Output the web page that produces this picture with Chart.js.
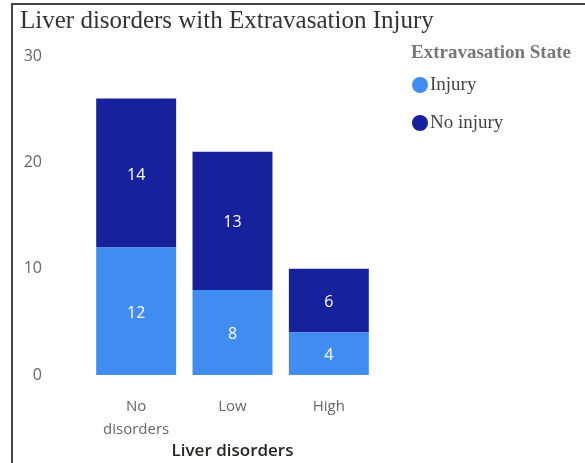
<!DOCTYPE html>
<html>
<head>
<meta charset="utf-8">
<script src="https://cdn.jsdelivr.net/npm/chart.js@4"></script>
<style>
  html, body { margin:0; padding:0; background:#fff; }
  #wrap { width:585px; height:463px; position:relative; }
</style>
</head>
<body>
<div id="wrap"><canvas id="chart" width="585" height="463"></canvas></div>
<script>
const categories = [['No', 'disorders'], 'Low', 'High'];
const injury = [12, 8, 4];
const noInjury = [14, 13, 6];
const yTicks = [0, 10, 20, 30];
const chartTitle = 'Liver disorders with Extravasation Injury';
const legendTitle = 'Extravasation State';

// frame, title, legend and the numbers inside each bar
const decor = {
  id: 'decor',
  beforeDraw(chart) {
    const ctx = chart.ctx;
    ctx.save();
    ctx.strokeStyle = '#444';
    ctx.lineWidth = 2;
    ctx.beginPath();
    ctx.moveTo(12, 463);
    ctx.lineTo(12, 4);
    ctx.lineTo(585, 4);
    ctx.stroke();
    ctx.restore();
  },
  afterDraw(chart) {
    const ctx = chart.ctx;
    ctx.save();
    ctx.fillStyle = '#333';
    ctx.font = '25px "Liberation Serif"';
    ctx.textBaseline = 'middle';
    ctx.textAlign = 'left';
    ctx.fillText(chartTitle, 20, 21);

    ctx.fillStyle = '#777';
    ctx.font = 'bold 19px "Liberation Serif"';
    ctx.fillText(legendTitle, 411, 53);

    ctx.font = '19px "Liberation Serif"';
    chart.data.datasets.forEach((ds, i) => {
      const y = 85 + i * 38;
      ctx.fillStyle = ds.backgroundColor;
      ctx.beginPath();
      ctx.arc(420, y, 8, 0, Math.PI * 2);
      ctx.fill();
      ctx.fillStyle = '#444';
      ctx.fillText(ds.label, 430, y);
    });

    ctx.fillStyle = '#fff';
    ctx.font = '16px "Open Sans"';
    ctx.textAlign = 'center';
    chart.data.datasets.forEach((ds, i) => {
      chart.getDatasetMeta(i).data.forEach((bar, j) => {
        const p = bar.getProps(['x', 'y', 'base'], true);
        ctx.fillText(String(ds.data[j]), p.x, (p.y + p.base) / 2 + 2);
      });
    });
    ctx.restore();
  }
};

new Chart(document.getElementById('chart'), {
  type: 'bar',
  data: {
    labels: categories,
    datasets: [
      {label: 'Injury', data: injury, backgroundColor: '#418CF0'},
      {label: 'No injury', data: noInjury, backgroundColor: '#16219B'}
    ]
  },
  options: {
    responsive: false,
    animation: false,
    layout: {padding: {top: 56, right: 208, left: 22, bottom: 0}},
    plugins: {legend: {display: false}, title: {display: false}, tooltip: {enabled: false}},
    datasets: {bar: {categoryPercentage: 1, barPercentage: 0.83}},
    scales: {
      x: {
        stacked: true,
        grid: {display: false, drawTicks: false},
        border: {display: false},
        ticks: {color: '#666', font: {family: 'Open Sans', size: 15, lineHeight: 1.53}, padding: 20, maxRotation: 0},
        title: {display: true, text: 'Liver disorders', color: '#252423',
                font: {family: 'Open Sans', size: 17, weight: '600'}, padding: {top: 0, bottom: 2}},
        afterFit(s) { s.height = 88; }
      },
      y: {
        stacked: true,
        min: 0, max: 30,
        afterBuildTicks(s) { s.ticks = yTicks.map(v => ({value: v})); },
        grid: {display: false, drawTicks: false},
        border: {display: false},
        ticks: {color: '#666', font: {family: 'Open Sans', size: 16}, padding: 46},
        afterFit(s) { s.width = 66; }
      }
    }
  },
  plugins: [decor]
});
</script>
</body>
</html>
